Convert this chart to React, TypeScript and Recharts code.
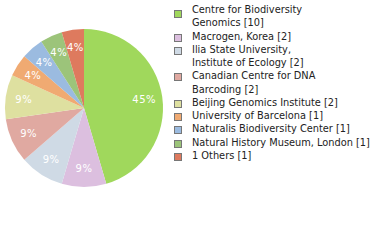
import { PieChart, Pie, Cell } from 'recharts'

const labels = [
  'Centre for Biodiversity\nGenomics',
  'Macrogen, Korea',
  'Ilia State University,\nInstitute of Ecology',
  'Canadian Centre for DNA\nBarcoding',
  'Beijing Genomics Institute',
  'University of Barcelona',
  'Naturalis Biodiversity Center',
  'Natural History Museum, London',
  '1 Others',
]
const counts = [10, 2, 2, 2, 2, 1, 1, 1, 1]
const colors = ['#a0d85c', '#dcbfdf', '#cfdae5', '#e0a9a1', '#dee0a0', '#f0aa72', '#9bbbe0', '#9cc47a', '#de7a5e']

const data = labels.map((name, i) => ({ name, value: counts[i] }))
const total = counts.reduce((a, b) => a + b, 0)

const RADIAN = Math.PI / 180

const renderLabel = ({ cx, cy, midAngle, outerRadius, value }: any) => {
  const r = outerRadius * 0.77
  const x = cx + r * Math.cos(-midAngle * RADIAN)
  const y = cy + r * Math.sin(-midAngle * RADIAN)
  return (
    <text x={x} y={y} fill="#fff" fontSize={10} textAnchor="middle" dominantBaseline="central"
      fontFamily="DejaVu Sans" style={{ letterSpacing: '0.5px' }}>
      {Math.floor((value / total) * 100)}%
    </text>
  )
}

function ChartLegend() {
  return (
    <div style={{
      position: 'absolute', left: 174, top: 3, width: 206,
      fontFamily: 'DejaVu Sans', fontSize: 10, color: '#222',
    }}>
      {data.map((d, i) => (
        <div key={i} style={{ display: 'flex', alignItems: 'flex-start', marginBottom: 0 }}>
          <span style={{
            width: 6, height: 6, background: colors[i], border: '1px solid #777',
            marginTop: i === 0 ? 7 : 4, marginRight: 10, flexShrink: 0,
          }} />
          <span style={{ whiteSpace: 'pre', lineHeight: '13.27px', fontSize: 9.8 }}>{`${d.name} [${d.value}]`}</span>
        </div>
      ))}
    </div>
  )
}

export default function App() {
  return (
    <div style={{ position: 'absolute', top: 0, left: 0, width: 380, height: 240, background: '#fff' }}>
      <PieChart width={380} height={240} margin={{ top: 0, right: 0, bottom: 0, left: 0 }}>
        <Pie
          data={data}
          dataKey="value"
          cx={84}
          cy={108}
          outerRadius={79}
          startAngle={90}
          endAngle={-270}
          stroke="none"
          label={renderLabel}
          labelLine={false}
          isAnimationActive={false}
        >
          {data.map((d, i) => (
            <Cell key={`cell-${i}`} fill={colors[i]} />
          ))}
        </Pie>
      </PieChart>
      <ChartLegend />
    </div>
  )
}
